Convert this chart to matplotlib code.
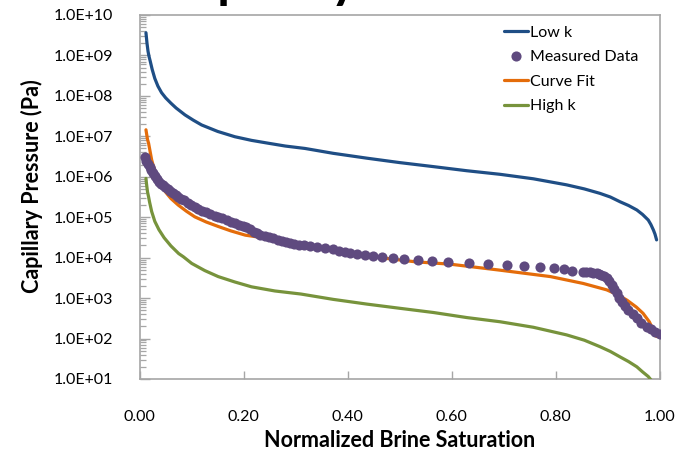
import matplotlib
matplotlib.use("Agg")
import matplotlib.pyplot as plt
from matplotlib.ticker import LogLocator, FuncFormatter, FixedLocator, NullFormatter

plt.rcParams['font.family'] = ['Lato', 'DejaVu Sans']

# ---------------- data ----------------
low_k_x = [0.012, 0.014, 0.016, 0.018, 0.020, 0.024, 0.029, 0.035, 0.042, 0.050,
           0.060, 0.070, 0.087, 0.103, 0.119, 0.150, 0.183, 0.215, 0.247, 0.280,
           0.318, 0.372, 0.437, 0.500, 0.565, 0.629, 0.693, 0.757, 0.821, 0.855,
           0.885, 0.905, 0.924, 0.940, 0.956, 0.967, 0.978, 0.983, 0.988, 0.991, 0.994]
low_k_y = [3.63e9, 2.0e9, 1.26e9, 9.3e8, 7.4e8, 4.5e8, 2.7e8, 1.74e8, 1.20e8, 8.9e7,
           6.6e7, 5.01e7, 3.39e7, 2.51e7, 1.91e7, 1.32e7, 9.77e6, 7.94e6, 6.76e6, 5.75e6,
           5.01e6, 3.80e6, 2.88e6, 2.24e6, 1.78e6, 1.41e6, 1.15e6, 8.91e5, 6.31e5, 5.01e5,
           3.89e5, 3.16e5, 2.40e5, 1.95e5, 1.51e5, 1.17e5, 8.51e4, 6.6e4, 4.79e4, 3.8e4, 2.75e4]

fit_x = [0.012, 0.013, 0.014, 0.015, 0.017, 0.020, 0.023, 0.026, 0.030, 0.035,
         0.040, 0.049, 0.060, 0.074, 0.090, 0.106, 0.128, 0.151, 0.175, 0.203,
         0.230, 0.260, 0.318, 0.400, 0.468, 0.530, 0.597, 0.693, 0.790, 0.853,
         0.898, 0.920, 0.937, 0.955, 0.968, 0.980, 0.988, 0.994]
fit_y = [1.45e7, 1.2e7, 1.0e7, 8.3e6, 6.8e6, 4.2e6, 2.6e6, 1.9e6, 1.35e6, 9.3e5,
         6.6e5, 4.3e5, 2.9e5, 2.0e5, 1.4e5, 1.02e5, 7.6e4, 5.9e4, 4.6e4, 3.6e4,
         3.2e4, 2.7e4, 2.0e4, 1.32e4, 9.8e3, 7.9e3, 6.9e3, 4.9e3, 3.4e3, 2.3e3,
         1.6e3, 1.2e3, 890, 600, 420, 260, 160, 112]

high_k_x = [0.012, 0.013, 0.015, 0.017, 0.019, 0.023, 0.029, 0.037, 0.047, 0.060,
            0.075, 0.084, 0.100, 0.125, 0.151, 0.183, 0.215, 0.260, 0.310, 0.372,
            0.437, 0.500, 0.565, 0.629, 0.693, 0.757, 0.821, 0.855, 0.885, 0.905,
            0.924, 0.940, 0.956, 0.967, 0.978, 0.985, 0.990]
high_k_y = [9.1e5, 6.8e5, 4.2e5, 3.2e5, 2.35e5, 1.38e5, 7.9e4, 4.9e4, 3.1e4, 1.95e4,
            1.26e4, 1.05e4, 7.2e3, 4.8e3, 3.4e3, 2.5e3, 1.9e3, 1.5e3, 1.26e3, 930,
            710, 560, 440, 330, 260, 190, 123, 91, 63, 48,
            35, 27, 20, 15, 11.5, 8.9, 7]

meas_x = [0.010, 0.013, 0.016, 0.019, 0.022, 0.025, 0.029, 0.033, 0.037, 0.041,
          0.045, 0.049, 0.054, 0.059, 0.064, 0.069, 0.074, 0.080, 0.086, 0.092,
          0.099, 0.106, 0.113, 0.120, 0.128, 0.136, 0.144, 0.151, 0.159, 0.167,
          0.175, 0.183, 0.191, 0.198, 0.205, 0.212, 0.219, 0.225, 0.232, 0.240,
          0.248, 0.257, 0.265, 0.273, 0.281, 0.289, 0.297, 0.306, 0.315, 0.328,
          0.340, 0.356, 0.372, 0.384, 0.395, 0.404, 0.417, 0.433, 0.449, 0.465,
          0.487, 0.509, 0.535, 0.563, 0.593, 0.633, 0.670, 0.707, 0.739, 0.770,
          0.797, 0.816, 0.831, 0.853, 0.859, 0.866, 0.872, 0.879, 0.884, 0.888,
          0.893, 0.898, 0.903, 0.908, 0.912, 0.917, 0.922, 0.927, 0.933, 0.940,
          0.948, 0.956, 0.965, 0.975, 0.983, 0.991, 1.000]
meas_y = [3.16e6, 2.51e6, 2.04e6, 1.70e6, 1.45e6, 1.23e6, 1.02e6, 8.7e5, 7.6e5, 6.8e5,
          6.2e5, 5.6e5, 5.0e5, 4.5e5, 4.0e5, 3.6e5, 3.2e5, 2.9e5, 2.6e5, 2.3e5,
          2.0e5, 1.82e5, 1.62e5, 1.45e5, 1.32e5, 1.17e5, 1.10e5, 1.02e5, 9.3e4, 8.5e4,
          7.8e4, 7.1e4, 6.5e4, 6.0e4, 5.6e4, 5.0e4, 4.4e4, 4.0e4, 3.7e4, 3.5e4,
          3.2e4, 3.0e4, 2.8e4, 2.6e4, 2.5e4, 2.3e4, 2.2e4, 2.1e4, 2.05e4, 1.95e4,
          1.86e4, 1.70e4, 1.62e4, 1.48e4, 1.41e4, 1.32e4, 1.26e4, 1.17e4, 1.12e4, 1.05e4,
          1.0e4, 9.3e3, 8.7e3, 8.3e3, 7.6e3, 7.2e3, 6.9e3, 6.6e3, 6.2e3, 6.0e3,
          5.6e3, 5.1e3, 4.8e3, 4.5e3, 4.4e3, 4.35e3, 4.2e3, 4.1e3, 3.9e3, 3.7e3,
          3.5e3, 3.1e3, 2.6e3, 2.1e3, 1.66e3, 1.32e3, 1.02e3, 810, 650, 510,
          400, 320, 245, 195, 170, 148, 129]

x_ticks = [0.0, 0.2, 0.4, 0.6, 0.8, 1.0]
series_labels = ["Low k", "Measured Data", "Curve Fit", "High k"]
title_text = "Capillary Pressure"

c_low = "#1F4E85"
c_meas = "#5F4A7F"
c_fit = "#E46C0A"
c_high = "#77933C"

# ---------------- figure ----------------
fig = plt.figure(figsize=(6.91, 4.53), dpi=100)
ax = fig.add_axes([0.2022, 0.1634, 0.7525, 0.8035])

lw = 2.3
l1, = ax.plot(low_k_x, low_k_y, color=c_low, lw=lw, solid_capstyle='round',
              solid_joinstyle='round', zorder=3)
l3, = ax.plot(fit_x, fit_y, color=c_fit, lw=lw, solid_capstyle='round',
              solid_joinstyle='round', zorder=3)
l4, = ax.plot(high_k_x, high_k_y, color=c_high, lw=lw, solid_capstyle='round',
              solid_joinstyle='round', zorder=3)
l2, = ax.plot(meas_x, meas_y, linestyle='none', marker='o', markersize=7.3,
              color=c_meas, markeredgewidth=0, zorder=4)

ax.set_yscale('log')
ax.set_xlim(0, 1)
ax.set_ylim(1e1, 1e10)

ax.xaxis.set_major_locator(FixedLocator(x_ticks))
ax.xaxis.set_major_formatter(FuncFormatter(lambda v, p: f"{v:.2f}"))
ax.yaxis.set_major_locator(LogLocator(base=10, numticks=20))
ax.yaxis.set_minor_locator(LogLocator(base=10, subs=range(2, 10), numticks=20))
ax.yaxis.set_minor_formatter(NullFormatter())
ax.yaxis.set_major_formatter(FuncFormatter(lambda v, p: f"{v:.1E}"))

spine_c = "#A6A6A6"
for s in ax.spines.values():
    s.set_color(spine_c)
    s.set_linewidth(1.2)

ax.tick_params(axis='y', which='major', direction='in', length=7, width=1,
               color=spine_c, pad=19, labelsize=11.5, labelcolor='black')
ax.tick_params(axis='y', which='minor', direction='in', length=4, width=0.9,
               color=spine_c)
ax.tick_params(axis='x', which='major', direction='in', length=6, width=1,
               color=spine_c, pad=22, labelsize=11.5, labelcolor='black')

ax.set_ylabel("Capillary Pressure (Pa)", fontsize=15.5, fontweight='bold',
              va='center')
ax.yaxis.set_label_coords(-0.207, 0.529)
ax.set_xlabel("Normalized Brine Saturation", fontsize=15.5, fontweight='bold',
              va='center')
ax.xaxis.set_label_coords(0.5, -0.168)

ax.legend([l1, l2, l3, l4], series_labels, loc='upper left',
          bbox_to_anchor=(0.68, 1.0), frameon=False, fontsize=11.5,
          handlelength=1.5, handletextpad=0.15, labelspacing=0.65,
          borderaxespad=0.25)

# title partially cut off at the top of the picture (as in the reference)
fig.text(0.525, 1.006, title_text, ha='center', va='baseline',
         fontsize=37, fontweight='bold', color='black')

fig.savefig("out.png", dpi=100)
